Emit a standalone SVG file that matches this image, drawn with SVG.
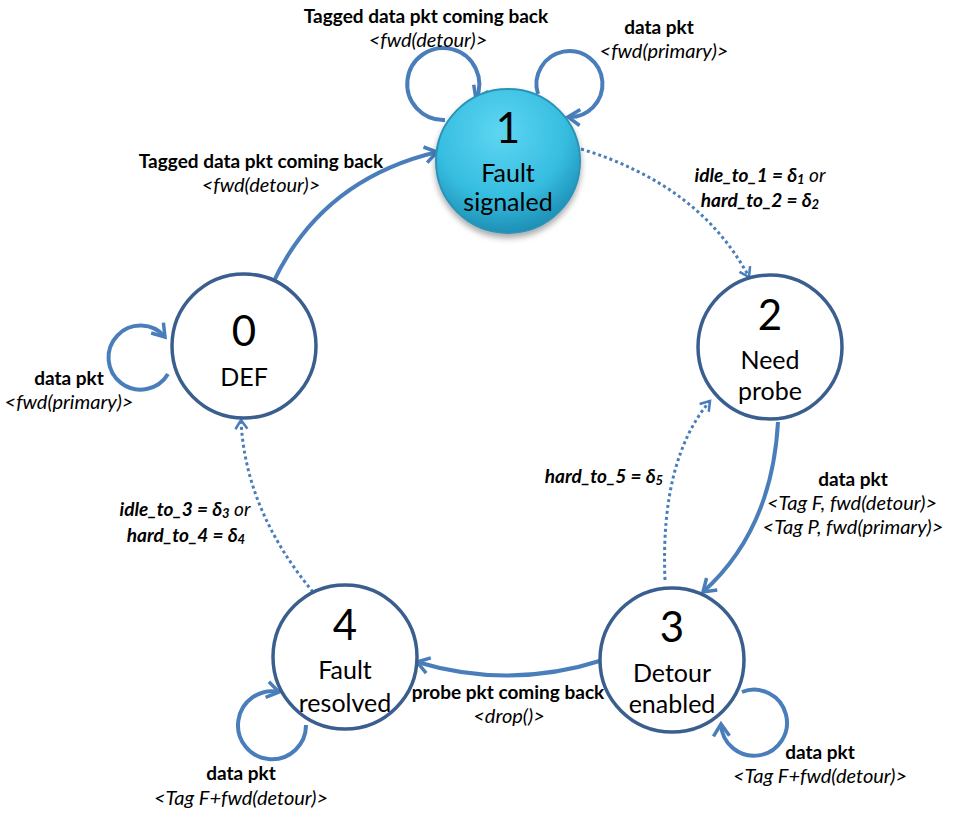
<svg xmlns="http://www.w3.org/2000/svg" width="976" height="830" viewBox="0 0 976 830">
<style>
.st{fill:#fff;stroke:#3a5f8f;stroke-width:3.5}
.num{font-family:Lato,"Liberation Sans",sans-serif;font-size:42px;text-anchor:middle;fill:#000}
.nm{font-family:Lato,"Liberation Sans",sans-serif;font-size:25px;text-anchor:middle;fill:#000}
.lb{font-family:Lato,"Liberation Sans",sans-serif;font-size:19px;text-anchor:middle;fill:#000}
.b{font-weight:bold}
.i{font-style:italic;font-size:20px}
.bi{font-style:italic;font-weight:bold;font-size:19px}
.e{fill:none;stroke:#4a7ebb;stroke-width:4;marker-end:url(#ah)}
.d{fill:none;stroke:#4a7ebb;stroke-width:3;stroke-dasharray:3 3;marker-end:url(#ahd)}
</style>
<defs>
<radialGradient id="g1" cx="0.45" cy="0.3" r="0.75">
<stop offset="0" stop-color="#5ed6f2"/>
<stop offset="0.6" stop-color="#36bde0"/>
<stop offset="1" stop-color="#1a86ad"/>
</radialGradient>
<filter id="sh" x="-20%" y="-20%" width="140%" height="150%">
<feGaussianBlur in="SourceAlpha" stdDeviation="3"/>
<feOffset dy="4"/>
<feComponentTransfer><feFuncA type="linear" slope="0.35"/></feComponentTransfer>
<feMerge><feMergeNode/><feMergeNode in="SourceGraphic"/></feMerge>
</filter>
<marker id="ah" markerUnits="userSpaceOnUse" markerWidth="20" markerHeight="20" viewBox="0 0 20 20" refX="16" refY="10" orient="auto">
<path d="M4,2 L16,10 L4,18" fill="none" stroke="#4a7ebb" stroke-width="3.5"/>
</marker>
<marker id="ahd" markerUnits="userSpaceOnUse" markerWidth="16" markerHeight="16" viewBox="0 0 16 16" refX="13" refY="8" orient="auto">
<path d="M4,2 L13,8 L4,14" fill="none" stroke="#4a7ebb" stroke-width="2.5"/>
</marker>
</defs>
<g id="connectors">
<path class="e" d="M272,285 Q320,180 437,152"/>
<path class="e" d="M445,120 A36,36 0 1 1 476,99"/>
<path class="e" d="M538,94 A33,33 0 1 1 568,117"/>
<path class="d" d="M581,149 Q700,185 749,277"/>
<path class="e" d="M778,422 Q772,530 703,592"/>
<path class="d" d="M665,580 Q660,460 710,401"/>
<path class="e" d="M603,660 Q510,690 417,662"/>
<path class="d" d="M313,592 Q245,510 241,420"/>
<path class="e" d="M168,374 A32,32 0 1 1 165,337"/>
<path class="e" d="M742,692 A33,33 0 1 1 721,724"/>
<path class="e" d="M306,725 A34,34 0 1 1 279,692"/>
</g>
<g id="state1">
<circle cx="508" cy="161" r="72" fill="url(#g1)" stroke="#2a93b8" stroke-width="2" filter="url(#sh)"/>
<text class="num" x="508" y="143">1</text>
<text class="nm" x="508" y="182">Fault</text>
<text class="nm" x="508" y="211">signaled</text>
</g>
<g id="state0">
<circle class="st" cx="244" cy="346" r="72"/>
<text class="num" x="244" y="346">0</text>
<text class="nm" x="244" y="386">DEF</text>
</g>
<g id="state2">
<circle class="st" cx="770" cy="347" r="72"/>
<text class="num" x="770" y="330">2</text>
<text class="nm" x="770" y="369">Need</text>
<text class="nm" x="770" y="400">probe</text>
</g>
<g id="state3">
<circle class="st" cx="672" cy="660" r="72"/>
<text class="num" x="672" y="642">3</text>
<text class="nm" x="672" y="682">Detour</text>
<text class="nm" x="672" y="713">enabled</text>
</g>
<g id="state4">
<circle class="st" cx="345" cy="657" r="72"/>
<text class="num" x="345" y="640">4</text>
<text class="nm" x="345" y="679">Fault</text>
<text class="nm" x="345" y="712">resolved</text>
</g>
<g id="labels">
<text class="lb b" x="426" y="23">Tagged data pkt coming back</text>
<text class="lb i" x="428" y="47">&lt;fwd(detour)&gt;</text>
<text class="lb b" x="659" y="34">data pkt</text>
<text class="lb i" x="664" y="58">&lt;fwd(primary)&gt;</text>
<text class="lb b" x="261" y="168">Tagged data pkt coming back</text>
<text class="lb i" x="261" y="192">&lt;fwd(detour)&gt;</text>
<text class="lb bi" x="760" y="182">idle_to_1 = δ<tspan font-size="13" dy="2">1</tspan><tspan dy="-2" font-weight="normal"> or</tspan></text>
<text class="lb bi" x="760" y="207">hard_to_2 = δ<tspan font-size="13" dy="2">2</tspan></text>
<text class="lb b" x="69" y="385">data pkt</text>
<text class="lb i" x="69" y="409">&lt;fwd(primary)&gt;</text>
<text class="lb bi" x="604" y="483">hard_to_5 = δ<tspan font-size="13" dy="2">5</tspan></text>
<text class="lb b" x="853" y="486">data pkt</text>
<text class="lb i" x="852" y="510">&lt;Tag F, fwd(detour)&gt;</text>
<text class="lb i" x="853" y="534">&lt;Tag P, fwd(primary)&gt;</text>
<text class="lb bi" x="185" y="516">idle_to_3 = δ<tspan font-size="13" dy="2">3</tspan><tspan dy="-2" font-weight="normal"> or</tspan></text>
<text class="lb bi" x="186" y="542">hard_to_4 = δ<tspan font-size="13" dy="2">4</tspan></text>
<text class="lb b" x="508" y="699">probe pkt coming back</text>
<text class="lb i" x="509" y="723">&lt;drop()&gt;</text>
<text class="lb b" x="820" y="759">data pkt</text>
<text class="lb i" x="820" y="783">&lt;Tag F+fwd(detour)&gt;</text>
<text class="lb b" x="241" y="780">data pkt</text>
<text class="lb i" x="241" y="805">&lt;Tag F+fwd(detour)&gt;</text>
</g>
</svg>
